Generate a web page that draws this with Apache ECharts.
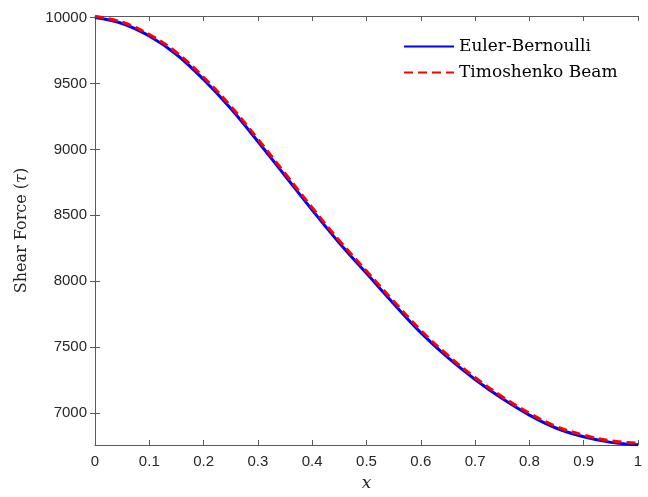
<!DOCTYPE html>
<html>
<head>
<meta charset="utf-8">
<script src="https://cdn.jsdelivr.net/npm/echarts@6/dist/echarts.min.js"></script>
<style>
  html, body { margin: 0; padding: 0; background: #fff; }
  #chart { width: 648px; height: 497px; }
</style>
</head>
<body>
<div id="chart"></div>
<script>
// values
const xValues = [0, 0.05, 0.1, 0.15, 0.2, 0.25, 0.3, 0.35, 0.4, 0.45, 0.5,
  0.55, 0.6, 0.65, 0.7, 0.75, 0.8, 0.85, 0.9, 0.95, 1];
const eulerBernoulli = [10000, 9955, 9860, 9720, 9530, 9310, 9060, 8800, 8540, 8290, 8060,
  7830, 7610, 7420, 7255, 7110, 6985, 6885, 6820, 6778, 6760];
const timoshenko = [10010, 9965, 9872, 9735, 9547, 9328, 9078, 8818, 8558, 8308, 8077,
  7848, 7628, 7437, 7270, 7124, 6999, 6898, 6833, 6790, 6772];
const yTicks = [7000, 7500, 8000, 8500, 9000, 9500, 10000];
const yMin = 6758;
const yMax = 10012;

const chart = echarts.init(document.getElementById('chart'));

const axisColor = '#595959';
const labelFont = {
  color: '#262626',
  fontFamily: 'Liberation Sans',
  fontSize: 15,
};

const pairs = arr => xValues.map((x, i) => [x, arr[i]]);

const option = {
  backgroundColor: '#fff',
  animation: false,
  grid: {
    left: 95,
    right: 10,
    top: 16,
    bottom: 51,
  },
  legend: {
    orient: 'vertical',
    left: 398,
    top: 33,
    itemWidth: 50,
    itemHeight: 16,
    itemGap: 9,
    itemStyle: { opacity: 0 },
    textStyle: {
      fontFamily: 'DejaVu Serif',
      fontSize: 17,
      color: '#000',
    },
    data: ['Euler-Bernoulli', 'Timoshenko Beam'],
  },
  xAxis: [
    {
      type: 'value',
      min: 0,
      max: 1,
      interval: 0.1,
      name: 'x',
      nameLocation: 'middle',
      nameGap: 30,
      nameTextStyle: {
        fontFamily: 'DejaVu Serif',
        fontStyle: 'italic',
        fontSize: 17,
        color: '#262626',
      },
      axisLine: { show: true, lineStyle: { color: axisColor } },
      axisTick: { show: true, inside: true, length: 5, lineStyle: { color: axisColor } },
      axisLabel: {
        ...labelFont,
        margin: 9,
        formatter: v => String(+v.toFixed(1)),
      },
      splitLine: { show: false },
    },
    {
      type: 'value',
      position: 'top',
      min: 0,
      max: 1,
      interval: 0.1,
      axisLine: { show: true, lineStyle: { color: axisColor } },
      axisTick: { show: true, inside: true, length: 5, lineStyle: { color: axisColor } },
      axisLabel: { show: false },
      splitLine: { show: false },
    },
  ],
  yAxis: [
    {
      type: 'value',
      min: yMin,
      max: yMax,
      name: 'Shear Force ({i|τ})',
      nameLocation: 'middle',
      nameRotate: 90,
      nameGap: 65,
      nameTextStyle: {
        fontFamily: 'DejaVu Serif',
        fontSize: 16,
        color: '#262626',
        rich: {
          i: {
            fontFamily: 'DejaVu Serif',
            fontStyle: 'italic',
            fontSize: 16,
            color: '#262626',
          },
        },
      },
      axisLine: { show: true, lineStyle: { color: axisColor } },
      axisTick: {
        show: true,
        inside: true,
        length: 5,
        customValues: yTicks,
        lineStyle: { color: axisColor },
      },
      axisLabel: {
        ...labelFont,
        margin: 8,
        customValues: yTicks,
        formatter: v => String(v),
      },
      splitLine: { show: false },
    },
    {
      type: 'value',
      position: 'right',
      min: yMin,
      max: yMax,
      axisLine: { show: true, lineStyle: { color: axisColor } },
      axisTick: {
        show: true,
        inside: true,
        length: 5,
        customValues: yTicks,
        lineStyle: { color: axisColor },
      },
      axisLabel: { show: false, customValues: yTicks },
      splitLine: { show: false },
    },
  ],
  series: [
    {
      name: 'Euler-Bernoulli',
      type: 'line',
      xAxisIndex: 0,
      yAxisIndex: 0,
      data: pairs(eulerBernoulli),
      smooth: 0.4,
      symbol: 'none',
      lineStyle: { color: '#0000ff', width: 3 },
      itemStyle: { color: '#0000ff' },
    },
    {
      name: 'Timoshenko Beam',
      type: 'line',
      xAxisIndex: 0,
      yAxisIndex: 0,
      data: pairs(timoshenko),
      smooth: 0.4,
      symbol: 'none',
      lineStyle: { color: '#ff0000', width: 3, type: [9, 5] },
      itemStyle: { color: '#ff0000' },
    },
  ],
};

chart.setOption(option);
</script>
</body>
</html>
